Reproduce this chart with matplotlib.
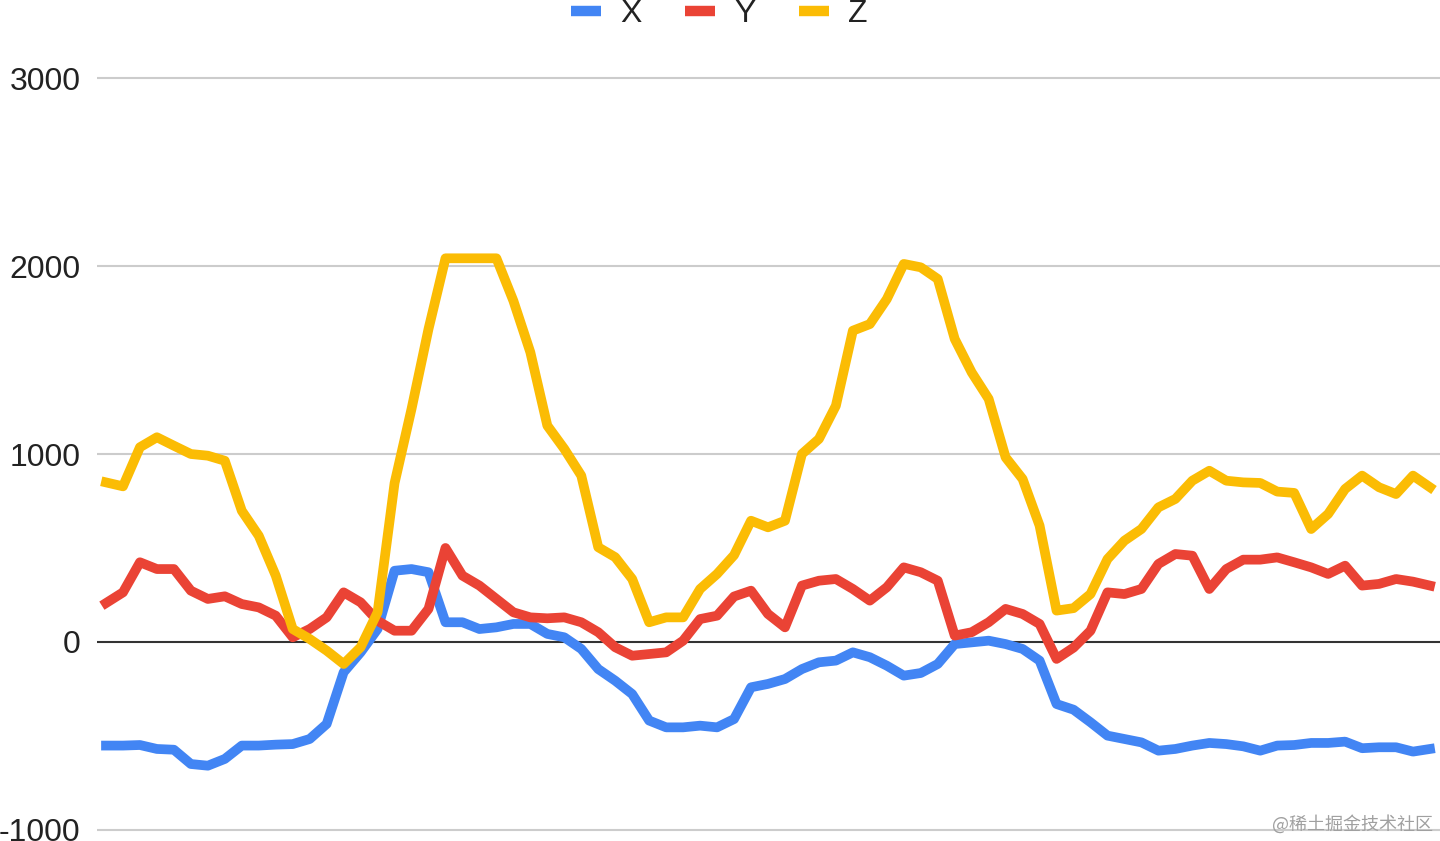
import matplotlib
matplotlib.use("Agg")
import matplotlib.pyplot as plt
from matplotlib.lines import Line2D

# values (79 samples per series)
x_vals = [-551, -551, -548, -569, -573, -649, -658, -622, -551, -551,
          -546, -543, -516, -436, -161, -55, 69, 379, 388, 371,
          105, 105, 69, 78, 96, 96, 43, 25, -37, -144,
          -206, -277, -418, -454, -454, -445, -454, -410, -241, -223,
          -197, -144, -108, -99, -55, -81, -126, -179, -165, -117,
          -11, -2, 7, -11, -37, -99, -330, -360, -427, -498,
          -516, -534, -578, -569, -551, -537, -543, -555, -578, -551,
          -548, -537, -537, -530, -565, -560, -560, -583, -569]
y_vals = [207, 264, 424, 388, 388, 273, 229, 243, 202, 184,
          140, 25, 69, 131, 264, 211, 113, 60, 60, 176,
          500, 353, 300, 229, 158, 131, 126, 131, 105, 52,
          -28, -73, -64, -55, 7, 122, 140, 242, 273, 149,
          78, 300, 326, 335, 282, 220, 291, 397, 371, 326,
          34, 52, 105, 176, 149, 96, -90, -30, 60, 264,
          255, 282, 415, 468, 459, 282, 388, 438, 438, 450,
          424, 397, 362, 406, 300, 309, 335, 321, 300]
z_vals = [849, 828, 1036, 1089, 1044, 1000, 991, 964, 698, 565,
          353, 69, 16, -46, -117, -28, 158, 845, 1240, 1665,
          2041, 2041, 2041, 2041, 1815, 1541, 1151, 1027, 885, 504,
          451, 335, 105, 131, 131, 282, 362, 462, 645, 610,
          645, 1000, 1080, 1257, 1656, 1691, 1824, 2011, 1993, 1931,
          1612, 1434, 1293, 982, 867, 619, 167, 180, 255, 441,
          539, 601, 716, 761, 858, 911, 858, 849, 846, 800,
          793, 601, 681, 814, 885, 823, 787, 885, 823]
series_names = ["X", "Y", "Z"]
series_colors = ["#4285F4", "#EA4335", "#FBBC04"]
y_ticks = [-1000, 0, 1000, 2000, 3000]

plt.rcParams["font.family"] = ["Liberation Sans", "DejaVu Sans"]

fig = plt.figure(figsize=(14.4, 8.41), dpi=100)
ax = fig.add_axes([97 / 1440, 3 / 841, 1343 / 1440, 768 / 841])

idx = list(range(len(x_vals)))
for vals, color in zip([x_vals, y_vals, z_vals], series_colors):
    ax.plot(idx, vals, color=color, linewidth=7, zorder=3)

ax.set_xlim(-0.53, 78.59)
ax.set_ylim(-1042.6, 3042.6)
ax.set_yticks(y_ticks)
ax.set_yticklabels([str(t) for t in y_ticks])
ax.set_xticks([])
ax.tick_params(axis="y", length=0, pad=12, labelsize=23, labelcolor="#222222")
for s in ax.spines.values():
    s.set_visible(False)

for t in y_ticks:
    if t == 0:
        ax.axhline(t, color="#333333", linewidth=1.5, zorder=2)
    else:
        ax.axhline(t, color="#cccccc", linewidth=1.5, zorder=1)

handles = [Line2D([], [], color=c, linewidth=7.5, solid_capstyle="butt") for c in series_colors]
fig.legend(handles, series_names, loc="center", bbox_to_anchor=(719.5 / 1440, 1 - 14 / 841),
           ncol=3, frameon=False, fontsize=23, handlelength=0.95, handletextpad=0.6,
           columnspacing=1.35, labelcolor="#222222")

fig.text(1433 / 1440, 1 - 824 / 841, "@稀土掘金技术社区", ha="right", va="center",
         fontsize=13, color="#a0a0a0", family=["Noto Sans CJK SC", "DejaVu Sans"])

fig.savefig("out.png", dpi=100)
